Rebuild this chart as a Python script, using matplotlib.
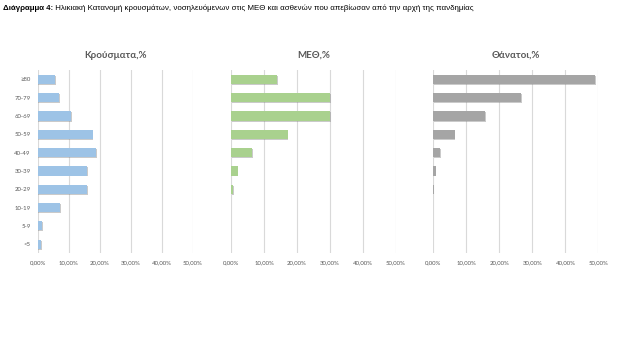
import numpy as np
import matplotlib.pyplot as plt
import matplotlib.patheffects as pe
from matplotlib import font_manager

# age groups, bottom to top
ages = ['<5', '5-9', '10-19', '20-29', '30-39', '40-49', '50-59', '60-69', '70-79', '≥80']
cases = [1.2, 1.5, 7.3, 15.9, 15.9, 18.8, 17.7, 10.7, 6.9, 5.6]
icu = [0.1, 0.0, 0.1, 0.7, 2.0, 6.4, 17.2, 30.0, 30.1, 13.9]
deaths = [0.0, 0.0, 0.0, 0.1, 0.7, 2.0, 6.5, 15.8, 26.7, 49.1]
titles = ['Κρούσματα,%', 'ΜΕΘ,%', 'Θάνατοι,%']
colors = ['#9DC3E6', '#A9D18E', '#A5A5A5']
ticks = [0, 10, 20, 30, 40, 50]

names = {f.name for f in font_manager.fontManager.ttflist}
narrow = 'Liberation Sans Narrow' if 'Liberation Sans Narrow' in names else 'Liberation Sans'
plt.rcParams['font.family'] = ['Lato', 'DejaVu Sans']

fig = plt.figure(figsize=(6.43, 3.38), dpi=100)

t1 = fig.text(0.004, 0.975, 'Διάγραμμα 4:', fontsize=5.7, fontweight='bold', va='center', ha='left',
              family=[narrow, 'DejaVu Sans'])
fig.canvas.draw()
bb = t1.get_window_extent()
x2 = bb.x1 / fig.bbox.width
fig.text(x2, 0.975, ' Ηλικιακή Κατανομή κρουσμάτων, νοσηλευόμενων στις ΜΕΘ και ασθενών που απεβίωσαν από την αρχή της πανδημίας',
         va='center', ha='left', fontsize=5.7, family=[narrow, 'DejaVu Sans'])

boxes = [(0.0586, 0.2415), (0.3593, 0.2561), (0.6739, 0.2566)]
series = [cases, icu, deaths]
y = np.arange(len(ages))
for i in range(3):
    l, w = boxes[i]
    ax = fig.add_axes([l, 0.2506, w, 0.5414])
    bars = ax.barh(y, series[i], height=0.5, color=colors[i], zorder=3)
    for b in bars:
        b.set_path_effects([pe.SimplePatchShadow(offset=(0.5, -0.7), shadow_rgbFace='#8a8a8a', alpha=0.45), pe.Normal()])
    ax.set_xlim(0, 50)
    ax.set_ylim(-0.5, 9.5)
    ax.set_xticks(ticks)
    ax.set_xticklabels(['%d,00%%' % t for t in ticks], fontsize=4.3, color='#595959')
    ax.grid(axis='x', color='#d9d9d9', linewidth=0.8, zorder=0)
    for s in ax.spines.values():
        s.set_visible(False)
    ax.tick_params(length=0, pad=5)
    if i == 0:
        ax.set_yticks(y)
        ax.set_yticklabels(ages, fontsize=4.3, color='#595959')
    else:
        ax.set_yticks([])
    ax.set_title(titles[i], fontsize=7, color='#595959', fontweight='bold', pad=9)

fig.savefig('out.png', dpi=100)
